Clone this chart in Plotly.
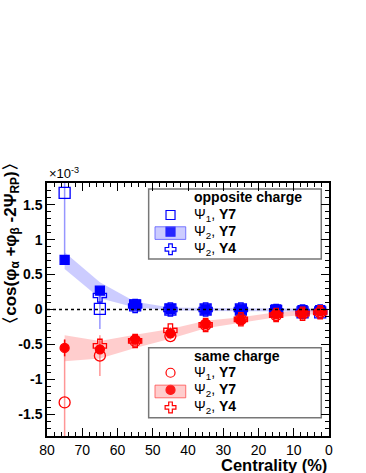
import plotly.graph_objects as go

CENT = [75, 65, 55, 45, 35, 25, 15, 7.5, 2.5]
X_TICKS = [80, 70, 60, 50, 40, 30, 20, 10, 0]

# opposite charge (units of 1e-3)
OPP_PSI1_Y7 = [1.67, 0.01, 0.06, 0.0, 0.0, 0.0, -0.02, -0.04, -0.04]
OPP_PSI1_Y7_ERR = [1.0, 0.29, 0.08, 0.04, 0.03, 0.03, 0.03, 0.04, 0.05]
OPP_PSI2_Y7 = [0.71, 0.27, 0.07, 0.01, 0.0, 0.0, 0.0, -0.01, -0.01]
OPP_PSI2_Y7_ERR = [0.04, 0.03, 0.02, 0.01, 0.01, 0.01, 0.01, 0.01, 0.01]
OPP_SYS_LO = [0.58, 0.16, 0.03, -0.01, -0.02, -0.02, -0.02, -0.03, -0.03]
OPP_SYS_HI = [0.82, 0.39, 0.11, 0.03, 0.02, 0.02, 0.02, 0.01, 0.01]
OPP_PSI2_Y4 = [None, 0.2, 0.05, 0.0, 0.0, 0.0, -0.02, -0.03, -0.03]
OPP_PSI2_Y4_ERR = [0, 0.1, 0.1, 0.04, 0.03, 0.03, 0.03, 0.04, 0.04]

# same charge
SAME_PSI1_Y7 = [-1.33, -0.66, -0.45, -0.38, -0.22, -0.14, -0.08, -0.06, -0.04]
SAME_PSI1_Y7_ERR = [0.9, 0.29, 0.1, 0.05, 0.04, 0.03, 0.03, 0.04, 0.05]
SAME_PSI2_Y7 = [-0.55, -0.57, -0.43, -0.34, -0.21, -0.15, -0.07, -0.05, -0.03]
SAME_PSI2_Y7_ERR = [0.12, 0.04, 0.03, 0.02, 0.02, 0.01, 0.01, 0.01, 0.01]
SAME_SYS_LO = [-0.74, -0.70, -0.55, -0.42, -0.27, -0.19, -0.11, -0.08, -0.06]
SAME_SYS_HI = [-0.37, -0.45, -0.36, -0.28, -0.16, -0.11, -0.04, -0.02, 0.0]
SAME_PSI2_Y4 = [None, -0.52, -0.45, -0.30, -0.22, -0.14, -0.08, -0.06, -0.04]
SAME_PSI2_Y4_ERR = [0, 0.1, 0.1, 0.05, 0.04, 0.03, 0.03, 0.04, 0.04]

BLUE = "#0000ff"
RED = "#ff0000"
BLUE_LT = "rgba(80,80,255,0.6)"
RED_LT = "rgba(255,80,80,0.6)"
BLUE_BAND = "rgba(110,110,255,0.35)"
RED_BAND = "rgba(255,90,90,0.30)"
FONT = "Liberation Sans, Arial, sans-serif"

fig = go.Figure()


def band(lo, hi, color):
    fig.add_trace(go.Scatter(x=CENT + CENT[::-1], y=hi + lo[::-1], fill="toself",
                             fillcolor=color, line=dict(width=0), mode="lines",
                             hoverinfo="skip", showlegend=False))


def points(y, err, color, errcolor, symbol, size, lw=1.3):
    fig.add_trace(go.Scatter(
        x=CENT, y=y, mode="markers",
        marker=dict(symbol=symbol, size=size, color=color,
                    line=dict(color=color, width=lw)),
        error_y=dict(type="data", array=err, color=errcolor, thickness=1.5, width=0),
        showlegend=False))


band(OPP_SYS_LO, OPP_SYS_HI, BLUE_BAND)
band(SAME_SYS_LO, SAME_SYS_HI, RED_BAND)

points(OPP_PSI1_Y7, OPP_PSI1_Y7_ERR, BLUE, BLUE_LT, "square-open", 11)
points(OPP_PSI2_Y4, OPP_PSI2_Y4_ERR, BLUE, BLUE_LT, "cross-open", 11)
points(OPP_PSI2_Y7, OPP_PSI2_Y7_ERR, BLUE, BLUE, "square", 9)

points(SAME_PSI1_Y7, SAME_PSI1_Y7_ERR, RED, RED_LT, "circle-open", 11)
points(SAME_PSI2_Y4, SAME_PSI2_Y4_ERR, RED, RED_LT, "cross-open", 11)
points(SAME_PSI2_Y7, SAME_PSI2_Y7_ERR, RED, RED, "circle", 9)

# legend symbols on an overlay axis in [0,1]
leg_rows_opp = [0.8735, 0.8075, 0.738]
leg_rows_same = [0.250, 0.182, 0.113]
for rows, col, syms in [(leg_rows_opp, BLUE, ["square-open", "square", "cross-open"]),
                        (leg_rows_same, RED, ["circle-open", "circle", "cross-open"])]:
    for yy, s in zip(rows, syms):
        fig.add_trace(go.Scatter(x=[0.438], y=[yy], xaxis="x2", yaxis="y2", mode="markers",
                                 marker=dict(symbol=s, size=9, color=col,
                                             line=dict(color=col, width=1.2)),
                                 showlegend=False, hoverinfo="skip"))

shapes = [
    dict(type="line", xref="paper", yref="y", x0=0, x1=1, y0=0, y1=0,
         line=dict(color="black", width=1.5, dash="dot")),
    dict(type="rect", xref="paper", yref="paper", x0=0.3605, x1=0.9726, y0=0.70, y1=0.976,
         line=dict(color="#777777", width=1.5), fillcolor="white", layer="below"),
    dict(type="rect", xref="paper", yref="paper", x0=0.3605, x1=0.9726, y0=0.072, y1=0.349,
         line=dict(color="#777777", width=1.5), fillcolor="white", layer="below"),
    dict(type="rect", xref="paper", yref="paper", x0=0.383, x1=0.492, y0=0.777, y1=0.827,
         line=dict(color="rgba(90,90,255,0.8)", width=1), fillcolor=BLUE_BAND),
    dict(type="rect", xref="paper", yref="paper", x0=0.383, x1=0.492, y0=0.151, y1=0.201,
         line=dict(color="rgba(255,80,80,0.8)", width=1), fillcolor=RED_BAND),
]

ann = []
def txt(x, y, s, size=14):
    ann.append(dict(x=x, y=y, xref="paper", yref="paper", text=s, showarrow=False,
                    xanchor="left", yanchor="middle",
                    font=dict(family=FONT, size=size, color="black")))

txt(0.5135, 0.946, "<b>opposite charge</b>")
txt(0.5135, 0.316, "<b>same charge</b>")
labels = ["Ψ<sub>1</sub>, <b>Y7</b>", "Ψ<sub>2</sub>, <b>Y7</b>", "Ψ<sub>2</sub>, <b>Y4</b>"]
for yy, s in zip(leg_rows_opp, labels):
    txt(0.5135, yy, s)
for yy, s in zip(leg_rows_same, labels):
    txt(0.5135, yy, s)

ann.append(dict(x=0, y=1.0, xref="paper", yref="paper", text="×10<sup>-3</sup>",
                showarrow=False, xanchor="left", yanchor="bottom",
                font=dict(family=FONT, size=13, color="black")))
ann.append(dict(x=-0.125, y=0.759, xref="paper", yref="paper", textangle=-90,
                text="<b>〈cos(φ<sub>α</sub> +φ<sub>β</sub> -2Ψ<sub>RP</sub>)〉</b>",
                showarrow=False, xanchor="center", yanchor="middle",
                font=dict(family=FONT, size=17, color="black")))
ann.append(dict(x=1.0, y=-0.072, xref="paper", yref="paper", text="<b>Centrality (%)</b>",
                showarrow=False, xanchor="right", yanchor="top",
                font=dict(family=FONT, size=16.5, color="black")))

fig.update_layout(
    width=366, height=473,
    margin=dict(l=47, r=37, t=183, b=37),
    plot_bgcolor="white", paper_bgcolor="white",
    showlegend=False,
    shapes=shapes, annotations=ann,
    xaxis=dict(range=[80, 0], tickvals=X_TICKS, ticks="inside", ticklen=8,
               tickcolor="black", showline=True, linecolor="black", linewidth=1.5,
               mirror="allticks", showgrid=False, zeroline=False,
               tickfont=dict(family=FONT, size=14, color="black"),
               minor=dict(dtick=2, ticks="inside", ticklen=4, tickcolor="black", showgrid=False)),
    yaxis=dict(range=[-1.81, 1.81], tickvals=[-1.5, -1, -0.5, 0, 0.5, 1, 1.5],
               ticktext=["<b>-1.5</b>", "<b>-1</b>", "<b>-0.5</b>", "<b>0</b>",
                         "<b>0.5</b>", "<b>1</b>", "<b>1.5</b>"],
               ticks="inside", ticklen=8, tickcolor="black", showline=True,
               linecolor="black", linewidth=1.5, mirror="allticks", showgrid=False,
               zeroline=False, tickfont=dict(family=FONT, size=14, color="black"),
               minor=dict(dtick=0.1, ticks="inside", ticklen=4, tickcolor="black", showgrid=False)),
    xaxis2=dict(range=[0, 1], overlaying="x", visible=False, fixedrange=True),
    yaxis2=dict(range=[0, 1], overlaying="y", visible=False, fixedrange=True),
)

# page body has a default 8px margin; remove it so the figure sits at (0, 0)
fig.write_html("out.html", config={"displayModeBar": False},
               post_script="document.body.style.margin='0';")
